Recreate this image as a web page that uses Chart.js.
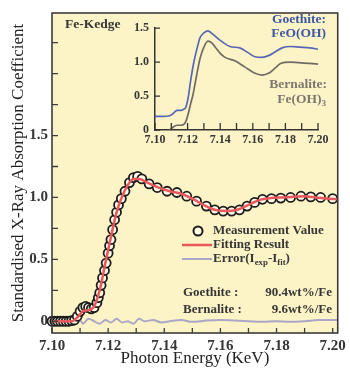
<!DOCTYPE html>
<html>
<head>
<meta charset="utf-8">
<script src="https://cdn.jsdelivr.net/npm/chart.js@4"></script>
<style>
  body { margin: 0; background: #fff; }
  #wrap { position: relative; width: 350px; height: 374px; }
  #mainChart { position: absolute; left: 0; top: 0; }
  #insetChart { position: absolute; left: 110px; top: 15px; }
</style>
</head>
<body>
<div id="wrap">
  <canvas id="mainChart" width="350" height="374"></canvas>
  <canvas id="insetChart" width="230" height="140"></canvas>
</div>
<script>
// measured spectrum (open circles)
const measEnergy = [7.1000, 7.1010, 7.1020, 7.1030, 7.1040, 7.1050, 7.1060, 7.1070, 7.1080, 7.1090,
  7.1100, 7.1110, 7.1120, 7.1130, 7.1140, 7.1150, 7.1160, 7.1165, 7.1170, 7.1175,
  7.1180, 7.1187, 7.1193, 7.1200, 7.1205, 7.1210, 7.1216, 7.1223, 7.1230, 7.1237,
  7.1247, 7.1260, 7.1276, 7.1290, 7.1305, 7.1320, 7.1346, 7.1375, 7.1410, 7.1445,
  7.1480, 7.1515, 7.1550, 7.1580, 7.1610, 7.1640, 7.1668, 7.1695, 7.1722, 7.1750,
  7.1782, 7.1815, 7.1850, 7.1887, 7.1922, 7.1957, 7.2000];
const measValue = [0, 0, 0, 0, 0, 0, 0, 0.005, 0.01, 0.04,
  0.08, 0.11, 0.12, 0.11, 0.10, 0.11, 0.15, 0.19, 0.23, 0.29,
  0.35, 0.41, 0.47, 0.55, 0.61, 0.66, 0.74, 0.82, 0.88, 0.94,
  0.99, 1.05, 1.12, 1.16, 1.17, 1.15, 1.11, 1.08, 1.05, 1.04,
  1.01, 0.97, 0.93, 0.90, 0.89, 0.89, 0.90, 0.93, 0.96, 0.985,
  0.99, 0.995, 1.0, 1.01, 1.005, 1.0, 0.99];

// fitting result (red line)
const fitEnergy = [7.100, 7.107, 7.109, 7.111, 7.113, 7.115, 7.117, 7.119, 7.121, 7.123,
  7.125, 7.127, 7.129, 7.131, 7.134, 7.138, 7.142, 7.146, 7.150, 7.154,
  7.158, 7.162, 7.166, 7.170, 7.174, 7.178, 7.182, 7.186, 7.190, 7.194, 7.2015];
const fitValue = [0, 0, 0.03, 0.08, 0.09, 0.12, 0.25, 0.47, 0.68, 0.88,
  1.01, 1.10, 1.15, 1.15, 1.12, 1.08, 1.05, 1.03, 0.99, 0.94,
  0.90, 0.89, 0.90, 0.94, 0.98, 0.995, 1.0, 1.005, 1.01, 1.0, 0.985];

// residual Iexp - Ifit
const errEnergy = [7.100, 7.108, 7.110, 7.111, 7.113, 7.115, 7.117, 7.119, 7.121, 7.123,
  7.125, 7.127, 7.129, 7.131, 7.133, 7.136, 7.139, 7.142, 7.146, 7.150,
  7.155, 7.160, 7.165, 7.170, 7.175, 7.180, 7.185, 7.190, 7.195, 7.2015];
const errValue = [0, 0, 0.01, -0.02, 0.02, 0.0, -0.02, 0.01, -0.01, 0.02,
  -0.01, 0.0, -0.02, 0.02, 0.0, 0.01, -0.01, 0.0, 0.01, -0.005,
  0.005, 0.01, 0.005, 0.0, -0.005, 0.0, -0.005, 0.0, 0.01, 0.01];

// inset reference spectra
const goethiteEnergy = [7.100, 7.105, 7.109, 7.111, 7.1135, 7.116, 7.118, 7.119, 7.1205, 7.122,
  7.124, 7.126, 7.1276, 7.130, 7.1325, 7.135, 7.140, 7.146, 7.152, 7.157,
  7.1613, 7.1657, 7.170, 7.1736, 7.178, 7.183, 7.189, 7.195, 7.200];
const goethiteValue = [0.2, 0.2, 0.21, 0.24, 0.29, 0.29, 0.31, 0.34, 0.5, 0.75,
  1.02, 1.22, 1.36, 1.43, 1.46, 1.42, 1.32, 1.23, 1.21, 1.14,
  1.08, 1.07, 1.1, 1.15, 1.21, 1.23, 1.22, 1.21, 1.19];
const bernaliteEnergy = [7.109, 7.111, 7.1135, 7.116, 7.118, 7.119, 7.1205, 7.122, 7.1233, 7.1255,
  7.1276, 7.130, 7.1325, 7.135, 7.137, 7.140, 7.143, 7.149, 7.155, 7.161,
  7.1657, 7.170, 7.174, 7.177, 7.183, 7.190, 7.200];
const bernaliteValue = [0, 0.04, 0.07, 0.07, 0.09, 0.13, 0.25, 0.4, 0.52, 0.8,
  1.05, 1.22, 1.31, 1.28, 1.22, 1.13, 1.07, 1.02, 0.93, 0.84,
  0.81, 0.84, 0.92, 0.98, 1.0, 0.99, 0.97];

// tick positions
const xTickValues = [7.10, 7.11, 7.12, 7.13, 7.14, 7.15, 7.16, 7.17, 7.18, 7.19, 7.20];
const yTickValues = [0, 0.25, 0.5, 0.75, 1.0, 1.25, 1.5, 1.75, 2.0, 2.25];
const yTickLabels = ['0', '', '0.5', '', '1.0', '', '1.5', '', '', ''];
const insetYTickValues = [0, 0.5, 1.0, 1.5];
const insetYTickLabels = ['0', '0.5', '1.0', '1.5'];

const serif = "'Liberation Serif', 'Times New Roman', serif";
const textColor = '#363636';

function pts(xs, ys) {
  return xs.map((x, i) => ({ x: x, y: ys[i] }));
}

// text with subscripts: parts = [[text, isSub], ...]
function drawRich(ctx, parts, x, y, size, align) {
  const widths = parts.map(p => {
    ctx.font = 'bold ' + (p[1] ? size * 0.68 : size) + 'px ' + serif;
    return ctx.measureText(p[0]).width;
  });
  const total = widths.reduce((a, b) => a + b, 0);
  let cx = align === 'right' ? x - total : x;
  ctx.textAlign = 'left';
  ctx.textBaseline = 'middle';
  parts.forEach((p, i) => {
    ctx.font = 'bold ' + (p[1] ? size * 0.68 : size) + 'px ' + serif;
    ctx.fillText(p[0], cx, p[1] ? y + 3.5 : y);
    cx += widths[i];
  });
}

const frame = {
  id: 'frame',
  beforeDraw(chart) {
    const { ctx, chartArea: a } = chart;
    ctx.save();
    ctx.fillStyle = '#fcf4c6';
    ctx.fillRect(a.left, a.top, a.right - a.left, a.bottom - a.top);
    ctx.restore();
  },
  afterDraw(chart) {
    const { ctx, chartArea: a, scales } = chart;
    ctx.save();
    ctx.strokeStyle = '#3c3c3c';
    ctx.lineWidth = 1.6;
    ctx.strokeRect(a.left, a.top, a.right - a.left, a.bottom - a.top);
    // inward ticks
    ctx.lineWidth = 1.3;
    ctx.beginPath();
    scales.x.ticks.forEach(t => {
      const px = scales.x.getPixelForValue(t.value);
      ctx.moveTo(px, a.bottom);
      ctx.lineTo(px, a.bottom - 5);
    });
    scales.y.ticks.forEach(t => {
      const py = scales.y.getPixelForValue(t.value);
      ctx.moveTo(a.left, py);
      ctx.lineTo(a.left + 6, py);
    });
    ctx.stroke();

    // annotations
    ctx.fillStyle = textColor;
    drawRich(ctx, [['Fe-Kedge', false]], 65, 25, 13.5, 'left');
    ctx.fillStyle = '#3d58a5';
    drawRich(ctx, [['Goethite:', false]], 326, 20, 13.5, 'right');
    drawRich(ctx, [['FeO(OH)', false]], 326, 34, 13.5, 'right');
    ctx.fillStyle = '#7c786f';
    drawRich(ctx, [['Bernalite:', false]], 327, 85, 13.5, 'right');
    drawRich(ctx, [['Fe(OH)', false], ['3', true]], 326, 100, 13.5, 'right');

    // legend
    ctx.beginPath();
    ctx.arc(198, 231, 4.5, 0, Math.PI * 2);
    ctx.fillStyle = '#fffbe8';
    ctx.fill();
    ctx.strokeStyle = '#1c1c1c';
    ctx.lineWidth = 2;
    ctx.stroke();
    ctx.beginPath();
    ctx.strokeStyle = '#e8585d';
    ctx.lineWidth = 2.5;
    ctx.moveTo(182, 245);
    ctx.lineTo(212, 245);
    ctx.stroke();
    ctx.beginPath();
    ctx.strokeStyle = '#aaa6c6';
    ctx.lineWidth = 2;
    ctx.moveTo(182, 259);
    ctx.lineTo(212, 259);
    ctx.stroke();
    ctx.fillStyle = textColor;
    drawRich(ctx, [['Measurement Value', false]], 213, 231, 13, 'left');
    drawRich(ctx, [['Fitting Result', false]], 213, 245, 13, 'left');
    drawRich(ctx, [['Error(I', false], ['exp', true], ['-I', false], ['fit', true], [')', false]], 213, 259, 13, 'left');

    drawRich(ctx, [['Goethite :', false]], 183, 293, 13, 'left');
    drawRich(ctx, [['90.4wt%/Fe', false]], 332, 293, 13, 'right');
    drawRich(ctx, [['Bernalite :', false]], 183, 310, 13, 'left');
    drawRich(ctx, [['9.6wt%/Fe', false]], 332, 310, 13, 'right');
    ctx.restore();
  }
};

new Chart(document.getElementById('mainChart'), {
  type: 'line',
  data: {
    datasets: [
      {
        label: 'Fitting Result',
        data: pts(fitEnergy, fitValue),
        borderColor: '#e8585d',
        borderWidth: 2.5,
        pointRadius: 0,
        cubicInterpolationMode: 'monotone',
        clip: 4
      },
      {
        label: 'Measurement Value',
        data: pts(measEnergy, measValue),
        showLine: false,
        pointRadius: 4.5,
        pointBorderWidth: 1.8,
        pointBorderColor: '#1c1c1c',
        pointBackgroundColor: '#fffbe8',
        clip: 6
      },
      {
        label: 'Error(Iexp-Ifit)',
        data: pts(errEnergy, errValue),
        borderColor: '#aaa6c6',
        borderWidth: 2,
        pointRadius: 0,
        cubicInterpolationMode: 'monotone',
        clip: 4
      }
    ]
  },
  options: {
    responsive: false,
    animation: false,
    layout: { padding: { top: 7, right: 11, left: 0, bottom: 0 } },
    plugins: { legend: { display: false }, tooltip: { enabled: false } },
    scales: {
      x: {
        type: 'linear',
        min: 7.10,
        max: 7.2018,
        afterFit: s => { s.height = 41; },
        afterBuildTicks: s => { s.ticks = xTickValues.map(v => ({ value: v })); },
        grid: { display: false, drawTicks: false },
        border: { display: false },
        ticks: {
          autoSkip: false,
          maxRotation: 0,
          padding: 4,
          color: textColor,
          font: { family: serif, size: 15, weight: 'bold' },
          callback: (v, i) => (i % 2 === 0 ? v.toFixed(2) : '')
        },
        title: {
          display: true,
          text: 'Photon Energy (KeV)',
          color: '#222',
          font: { family: serif, size: 17 },
          padding: { top: 0, bottom: 5 }
        }
      },
      y: {
        min: -0.095,
        max: 2.49,
        afterFit: s => { s.width = 52; },
        afterBuildTicks: s => { s.ticks = yTickValues.map(v => ({ value: v })); },
        grid: { display: false, drawTicks: false },
        border: { display: false },
        ticks: {
          autoSkip: false,
          padding: 4,
          color: textColor,
          font: { family: serif, size: 15, weight: 'bold' },
          callback: (v, i) => yTickLabels[i]
        },
        title: {
          display: true,
          text: 'Standardised X-Ray Absorption Coefficient',
          color: '#222',
          font: { family: serif, size: 17 },
          padding: { top: 8, bottom: 0 }
        }
      }
    }
  },
  plugins: [frame]
});

const insetTicks = {
  id: 'insetTicks',
  afterDraw(chart) {
    const { ctx, chartArea: a, scales } = chart;
    ctx.save();
    ctx.strokeStyle = '#333';
    ctx.lineWidth = 1.3;
    ctx.beginPath();
    scales.x.ticks.forEach(t => {
      const px = scales.x.getPixelForValue(t.value);
      ctx.moveTo(px, a.bottom);
      ctx.lineTo(px, a.bottom - 7);
    });
    scales.y.ticks.forEach(t => {
      const py = scales.y.getPixelForValue(t.value);
      ctx.moveTo(a.left, py);
      ctx.lineTo(a.left + 5, py);
    });
    ctx.stroke();
    ctx.restore();
  }
};

new Chart(document.getElementById('insetChart'), {
  type: 'line',
  data: {
    datasets: [
      {
        label: 'Goethite: FeO(OH)',
        data: pts(goethiteEnergy, goethiteValue),
        borderColor: '#5866b6',
        borderWidth: 1.7,
        pointRadius: 0,
        cubicInterpolationMode: 'monotone',
        clip: false
      },
      {
        label: 'Bernalite: Fe(OH)3',
        data: pts(bernaliteEnergy, bernaliteValue),
        borderColor: '#6f6b64',
        borderWidth: 1.7,
        pointRadius: 0,
        cubicInterpolationMode: 'monotone',
        clip: false
      }
    ]
  },
  options: {
    responsive: false,
    animation: false,
    layout: { padding: { top: 13, right: 22, left: 0, bottom: 0 } },
    plugins: { legend: { display: false }, tooltip: { enabled: false } },
    scales: {
      x: {
        type: 'linear',
        min: 7.10,
        max: 7.20,
        afterFit: s => { s.height = 25; },
        afterBuildTicks: s => { s.ticks = xTickValues.map(v => ({ value: v })); },
        grid: { display: false, drawTicks: false },
        border: { display: true, color: '#333', width: 1.5 },
        ticks: {
          autoSkip: false,
          maxRotation: 0,
          padding: 3,
          color: textColor,
          font: { family: serif, size: 12, weight: 'bold' },
          callback: (v, i) => (i % 2 === 0 ? v.toFixed(2) : '')
        }
      },
      y: {
        min: 0,
        max: 1.5,
        afterFit: s => { s.width = 45; },
        afterBuildTicks: s => { s.ticks = insetYTickValues.map(v => ({ value: v })); },
        grid: { display: false, drawTicks: false },
        border: { display: true, color: '#333', width: 1.5 },
        ticks: {
          autoSkip: false,
          padding: 6,
          color: textColor,
          font: { family: serif, size: 12, weight: 'bold' },
          callback: (v, i) => insetYTickLabels[i]
        }
      }
    }
  },
  plugins: [insetTicks]
});
</script>
</body>
</html>
